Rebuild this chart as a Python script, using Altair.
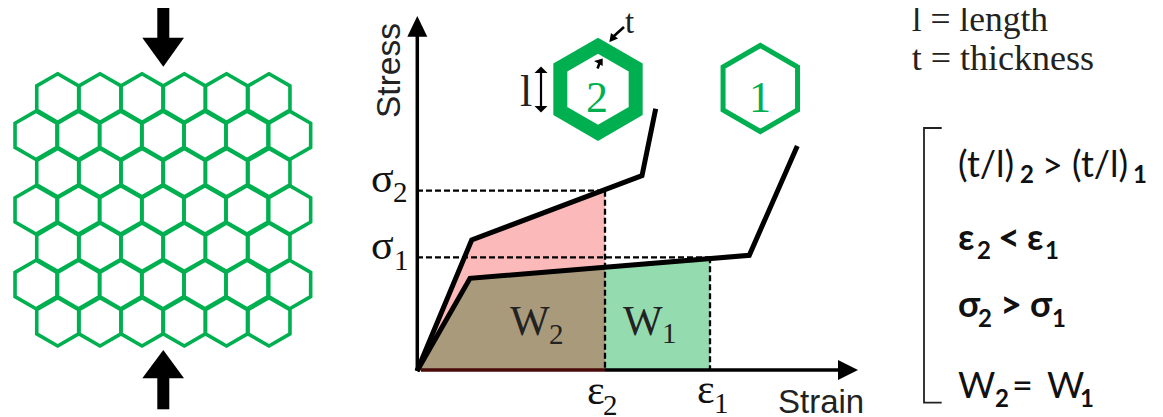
import altair as alt
import pandas as pd

GREEN = "#00b050"
X = alt.Scale(domain=[8, 1155], range=[0, 1147], nice=False, zero=False)
Y = alt.Scale(domain=[417, 8], nice=False, zero=False)

# honeycomb cell centres
row_y = [98, 135.3, 172.6, 209.9, 247.2, 284.5, 321.8]
odd_row_x = [57.7, 100, 142, 184.3, 226.5, 269]
even_row_x = [36, 78.5, 120.7, 163, 205, 247, 289.7]
cell_r = 24.2
# single cells
big_hex = [("h2", 598, 89.3, 43.5, 14), ("h1", 760.3, 88.5, 43, 5)]

# curves
curve2_x = [417, 471.7, 642, 655.7]
curve2_y = [371, 240, 175.7, 108.7]
curve1_x = [417, 470, 749.3, 797.3]
curve1_y = [371, 278.3, 255.3, 146]

# shaded work regions: x, upper y, lower y
pink = ([417, 471.7, 605], [371, 240, 190.7], [371, 371, 371], "#fbb9b9")
green = ([605, 710], [267.5, 258], [371, 371], "#95dbb0")
brown = ([417, 470, 605], [371, 278.3, 267.5], [371, 371, 371], "#a99a7c")

# dashed guides: x, x2, y, y2
dash_x = [417, 417, 605, 710]
dash_x2 = [605, 710, 605, 710]
dash_y = [190.7, 257.3, 190.7, 257.3]
dash_y2 = [190.7, 257.3, 370, 370]

# filled arrow shapes: x, upper y, lower y
shapes = [
    ([157.3, 169.3], [6.7, 6.7], [38, 38]),
    ([142.3, 163.3, 184], [37.7, 37.7, 37.7], [37.7, 66.7, 37.7]),
    ([157.3, 169.3], [378, 378], [409.3, 409.3]),
    ([142.3, 163.3, 184], [378.3, 350, 378.3], [378.3, 378.3, 378.3]),
    ([407.3, 417.3, 427.3], [36.7, 16, 36.7], [36.7, 36.7, 36.7]),
    ([838, 858], [360, 370], [380, 370]),
    ([534.5, 541, 547.5], [73, 66.5, 73], [73, 73, 73]),
    ([534.5, 541, 547.5], [106, 106, 106], [106, 112.5, 106]),
    ([609.3, 611, 618], [42, 33, 38.5], [42, 41.5, 38.5]),
    ([594, 602.7, 602.7], [61, 58.5, 58.5], [61, 66, 66]),
]
lines = [
    ([541, 541], [70, 109], 2.2),
    ([614, 624], [36, 27], 2.6),
    ([597.5, 600], [68.5, 62], 2.6),
]

# (text, x, baseline y, size, colour)
serif = [
    ("σ", 371, 192, 42, "#111"), ("2", 393, 202, 29, "#111"),
    ("σ", 371, 259, 42, "#111"), ("1", 394, 270, 29, "#111"),
    ("ε", 587, 404, 42, "#111"), ("2", 603, 415, 29, "#111"),
    ("ε", 697, 403, 42, "#111"), ("1", 714, 413, 29, "#111"),
    ("W", 510, 335, 42, "#222"), ("2", 549, 344, 29, "#222"),
    ("W", 623, 335, 42, "#222"), ("1", 662, 343, 29, "#222"),
    ("l", 520, 106, 44, "#222"), ("t", 625, 33, 33, "#222"),
    ("2", 586, 112, 44, GREEN), ("1", 749, 112, 44, GREEN),
    ("l = length", 911.7, 31, 35.5, "#222"),
    ("t = thickness", 911.7, 70, 36, "#222"),
]
sans_regular = [
    ("(t/l)", 958, 177, 36, "#111"), ("(t/l)", 1072, 177, 36, "#111"),
    ("W", 958, 398, 36, "#111"), ("W", 1047, 398, 36, "#111"),
    ("=", 1012, 398, 36, "#111"), (">", 1042, 178, 36, "#111"),
]
sans_bold = [
    ("2", 1020, 183, 24, "#111"), ("1", 1133, 183, 24, "#111"),
    ("ε", 958, 250, 36, "#111"), ("2", 977, 259, 24, "#111"),
    ("<", 998, 251, 38, "#111"), ("ε", 1027, 250, 36, "#111"), ("1", 1045, 259, 24, "#111"),
    ("σ", 958, 317, 36, "#111"), ("2", 978, 327, 24, "#111"),
    (">", 1000, 318, 38, "#111"), ("σ", 1030, 317, 36, "#111"), ("1", 1052, 327, 24, "#111"),
    ("2", 995, 407, 24, "#111"), ("1", 1080, 407, 24, "#111"),
]
arial = [("Strain", 778, 413, 33, "#222")]
stress = [("Stress", 400, 118, 33.5, "#222")]
bracket_x = [941.7, 924, 924, 941.7]
bracket_y = [128, 128, 402.7, 402.7]


def hexagon(cx, cy, r):
    d = r * 0.866
    pts = [(cx, cy - r), (cx + d, cy - r / 2), (cx + d, cy + r / 2),
           (cx, cy + r), (cx - d, cy + r / 2), (cx - d, cy - r / 2)]
    return pts + pts[:2]


def ex(f="x"):
    return alt.X(f"{f}:Q", scale=X, axis=None)


def ey(f="y"):
    return alt.Y(f"{f}:Q", scale=Y, axis=None)


def polyline(xs, ys, color, width, **kw):
    df = pd.DataFrame({"x": xs, "y": ys, "o": range(len(xs))})
    return alt.Chart(df).mark_line(color=color, strokeWidth=width, **kw).encode(
        x=ex(), y=ey(), order="o:Q")


def poly(xs, ys, y2s, color):
    df = pd.DataFrame({"x": xs, "y": ys, "y2": y2s})
    return alt.Chart(df).mark_area(color=color, opacity=1).encode(
        x=ex(), y=ey(), y2="y2:Q")


def texts(rows, font, weight="normal", **kw):
    df = pd.DataFrame(rows, columns=["t", "x", "y", "s", "c"])
    return alt.Chart(df).mark_text(align="left", baseline="alphabetic", font=font,
                                   fontWeight=weight, **kw).encode(
        x=ex(), y=ey(), text="t:N",
        size=alt.Size("s:Q", scale=None, legend=None),
        color=alt.Color("c:N", scale=None, legend=None))


recs = []
cid = 0
for i, ry in enumerate(row_y):
    for cx in (odd_row_x if i % 2 == 0 else even_row_x):
        for k, (px, py) in enumerate(hexagon(cx, ry, cell_r)):
            recs.append({"id": cid, "k": k, "x": px, "y": py})
        cid += 1
cells = alt.Chart(pd.DataFrame(recs)).mark_line(
    color=GREEN, strokeWidth=3.6, strokeJoin="miter").encode(
    x=ex(), y=ey(), detail="id:N", order="k:Q")

layers = [cells]
for name, cx, cy, r, w in big_hex:
    pts = hexagon(cx, cy, r)
    layers.append(polyline([p[0] for p in pts], [p[1] for p in pts], GREEN, w, strokeJoin="miter"))

layers += [poly(*pink), poly(*green), poly(*brown)]

layers.append(polyline([417.3, 417.3], [30, 371], "black", 3.5))
layers.append(polyline([605, 840], [370, 370], "black", 3.5))
layers.append(polyline([421, 605], [370, 370], "#4a0a0a", 3.5))

dash_df = pd.DataFrame({"x": dash_x, "x2": dash_x2, "y": dash_y, "y2": dash_y2})
layers.append(alt.Chart(dash_df).mark_rule(color="black", strokeWidth=2.3, strokeDash=[6, 3]).encode(
    x=ex(), x2="x2:Q", y=ey(), y2="y2:Q"))

layers.append(polyline(curve2_x, curve2_y, "black", 5, strokeJoin="miter"))
layers.append(polyline(curve1_x, curve1_y, "black", 5, strokeJoin="miter"))

for s in shapes:
    layers.append(poly(*s, "black"))
for lx, ly, w in lines:
    layers.append(polyline(lx, ly, "black", w))
layers.append(polyline(bracket_x, bracket_y, "#222", 1.8, strokeJoin="miter"))

layers.append(texts(serif, "Liberation Serif"))
layers.append(texts(sans_regular, "Lato", 400))
layers.append(texts(sans_bold, "Lato", 700))
layers.append(texts(arial, "Liberation Sans"))
layers.append(texts(stress, "Liberation Sans", angle=270))

chart = alt.layer(*layers).properties(
    width=1147, height=409, padding=0, background="white",
    autosize=alt.AutoSizeParams(type="none", contains="content")
).configure_view(stroke=None)

chart.save("out.html", embed_options={"renderer": "svg", "actions": False})
